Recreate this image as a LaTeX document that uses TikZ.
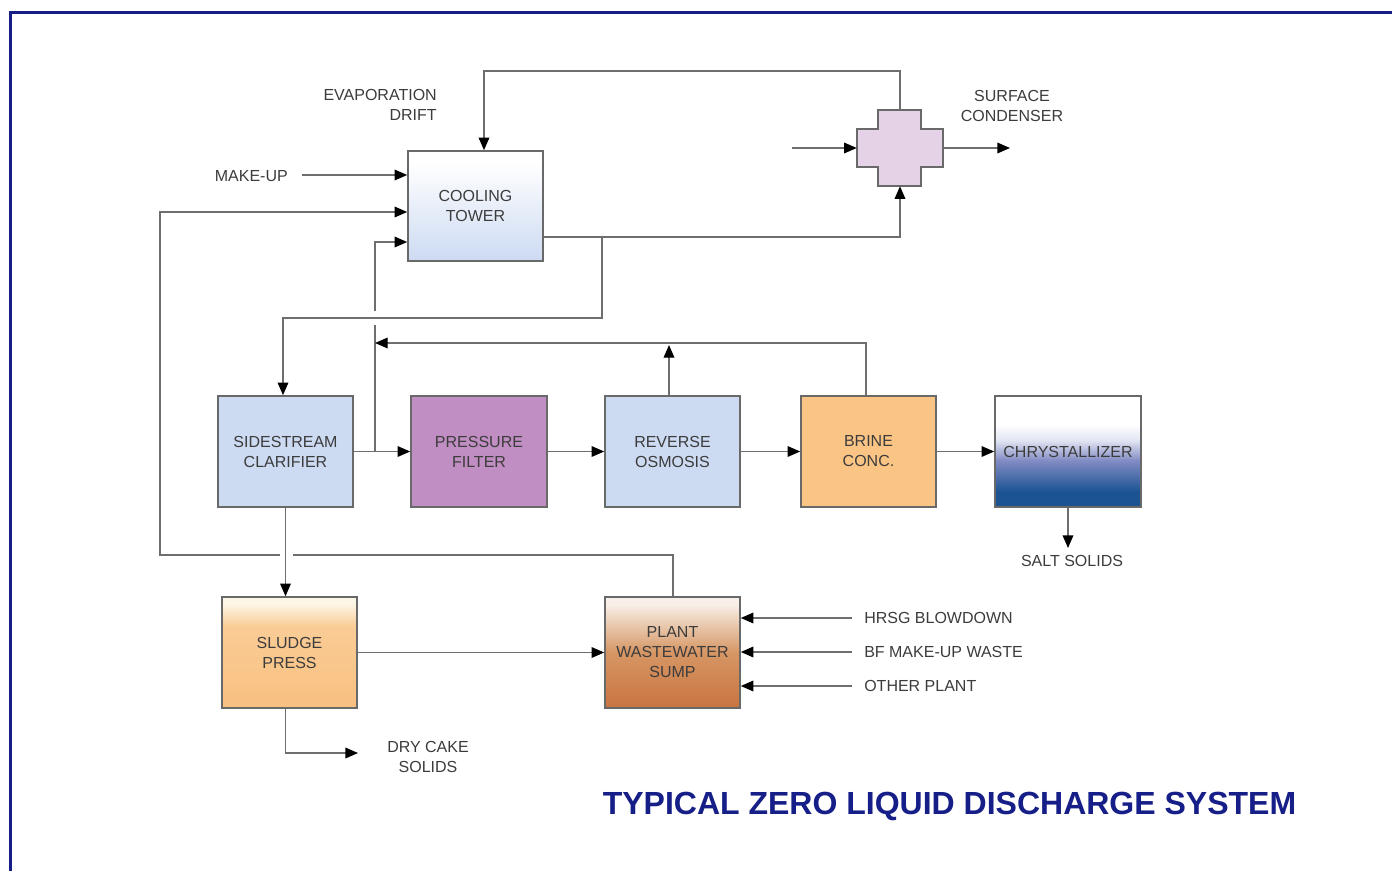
\documentclass[tikz,border=0pt]{standalone}
\usepackage{fontspec}
\setmainfont{Liberation Sans}
\usetikzlibrary{arrows.meta}
\definecolor{navy}{RGB}{22,30,135}
\definecolor{txt}{RGB}{60,60,60}
\definecolor{ln}{RGB}{110,110,110}
\definecolor{bord}{RGB}{105,105,105}
\definecolor{lblue}{RGB}{204,218,242}
\definecolor{purp}{RGB}{192,142,194}
\definecolor{brine}{RGB}{250,196,132}
\definecolor{crossc}{RGB}{230,210,230}
\definecolor{crB}{RGB}{28,84,146}
\definecolor{crM}{RGB}{130,140,196}
\definecolor{crL}{RGB}{225,228,242}
\definecolor{spT}{RGB}{252,246,230}
\definecolor{spM}{RGB}{250,204,150}
\definecolor{spB}{RGB}{248,192,128}
\definecolor{suT}{RGB}{248,240,232}
\definecolor{suM}{RGB}{214,150,100}
\definecolor{suB}{RGB}{200,116,64}
\pgfdeclareverticalshading{ctshade}{100bp}{color(0bp)=(lblue); color(25bp)=(lblue); color(70bp)=(white); color(100bp)=(white)}
\pgfdeclareverticalshading{crshade}{100bp}{color(0bp)=(crB); color(32bp)=(crB); color(46bp)=(crM); color(55bp)=(crL); color(62bp)=(white); color(100bp)=(white)}
\pgfdeclareverticalshading{spshade}{100bp}{color(0bp)=(spB); color(25bp)=(spB); color(62bp)=(spM); color(72bp)=(spT); color(100bp)=(spT)}
\pgfdeclareverticalshading{sushade}{100bp}{color(0bp)=(suB); color(25bp)=(suB); color(50bp)=(suM); color(72bp)=(suT); color(100bp)=(suT)}
\begin{document}
\begin{tikzpicture}[x=0.75pt,y=-0.75pt,
  lbl/.style={font=\fontsize{12}{15}\selectfont, text=txt, align=center, inner sep=0pt},
  box/.style={draw=bord, line width=1.2pt, lbl, minimum width=101.25pt, minimum height=83.25pt},
  arr/.style={draw=ln, line width=1pt, -{Triangle[length=9.5pt,width=8pt,color=black]}},
  ln/.style={draw=ln, line width=1pt}]
\useasboundingbox (0,0) rectangle (1392,871);
\fill[white] (0,0) rectangle (1392,871);
\draw[navy, line width=2.25pt] (10,871) -- (10,12.5) -- (1392,12.5);

% boxes
\node[box, shading=ctshade, minimum height=82.5pt] (ct) at (475.5,206) {COOLING\\TOWER};
\node[box, fill=lblue] (clar) at (285.5,451.5) {SIDESTREAM\\CLARIFIER};
\node[box, fill=purp, minimum width=102pt] (pf) at (479,451.5) {PRESSURE\\FILTER};
\node[box, fill=lblue] (ro) at (672.5,451.5) {REVERSE\\OSMOSIS};
\node[box, fill=brine] (bc) at (868.5,451.5) {BRINE\\CONC.};
\node[box, shading=crshade, minimum width=109.5pt] (cr) at (1068,451.5) {CHRYSTALLIZER};
\node[box, shading=spshade] (sp) at (289.5,652.5) {SLUDGE\\PRESS};
\node[box, shading=sushade] (sump) at (672.5,652.5) {PLANT\\WASTEWATER\\SUMP};

% surface condenser cross
\draw[bord, fill=crossc, line width=1.2pt]
  (878,110) -- (921,110) -- (921,129) -- (943,129) -- (943,167) -- (921,167)
  -- (921,186) -- (878,186) -- (878,167) -- (857,167) -- (857,129) -- (878,129) -- cycle;
\node[inner sep=0pt, minimum width=64.5pt, minimum height=57pt] (sc) at (900,148) {};

% labels
\node[lbl, anchor=east, align=right] (evap) at (437,105) {EVAPORATION\\DRIFT};
\node[lbl, anchor=east] (mul) at (288,176) {MAKE-UP};
\node[lbl] (scl) at (1012,106) {SURFACE\\CONDENSER};
\node[lbl] (ssl) at (1072,561) {SALT SOLIDS};
\node[lbl] (dcl) at (428,757) {DRY CAKE\\SOLIDS};
\node[lbl, anchor=west] (hl1) at (864,618) {HRSG BLOWDOWN};
\node[lbl, anchor=west] (hl2) at (864,652) {BF MAKE-UP WASTE};
\node[lbl, anchor=west] (hl3) at (864,686) {OTHER PLANT};
\node[font=\fontsize{24}{28}\selectfont\bfseries, text=navy, inner sep=0pt] (title) at (949.5,806) {TYPICAL ZERO LIQUID DISCHARGE SYSTEM};

% coordinates
\coordinate (t1) at (900,71);
\coordinate (t2) at (484,71);
\coordinate (scin) at (792,148);
\coordinate (scout) at (1010,148);
\coordinate (j1) at (602,237);
\coordinate (j2) at (900,237);
\coordinate (j3) at (602,318);
\coordinate (j4) at (283,318);
\coordinate (mu) at (302,175);
\coordinate (l1) at (160,212);
\coordinate (l2) at (160,555);
\coordinate (l3) at (673,555);
\coordinate (hopL) at (280,555);
\coordinate (hopR) at (293,555);
\coordinate (v2) at (375,325);
\coordinate (v3) at (375,311);
\coordinate (v4) at (375,242);
\coordinate (r1) at (866,343);
\coordinate (r2) at (375,343);
\coordinate (r3) at (669,345);
\coordinate (ss) at (1068,548);
\coordinate (dc) at (358,753);
\coordinate (h1) at (852,618);
\coordinate (h2) at (852,652);
\coordinate (h3) at (852,686);

% connectors
\draw[arr] (sc.north) -- (t1) -- (t2) -- (t2 |- ct.north);
\draw[arr] (scin) -- (sc.west);
\draw[arr] (sc.east) -- (scout);
\draw[arr] (ct.east |- j1) -- (j2) -- (sc.south);
\draw[arr] (j1) -- (j3) -- (j4) -- (j4 |- clar.north);
\draw[arr] (mu) -- (mu -| ct.west);
\draw[arr] (hopL) -- (l2) -- (l1) -- (l1 -| ct.west);
\draw[ln] (sump.north -| l3) -- (l3) -- (hopR);
\draw[ln] (clar.east -| v2) -- (v2);
\draw[arr] (v3) -- (v4) -- (v4 -| ct.west);
\draw[arr] (clar.east) -- (pf.west);
\draw[arr] (pf.east) -- (ro.west);
\draw[arr] (ro.east) -- (bc.west);
\draw[arr] (bc.east) -- (cr.west);
\draw[arr] (bc.north -| r1) -- (r1) -- (r2);
\draw[arr] (ro.north -| r3) -- (r3);
\draw[arr] (cr.south) -- (ss);
\draw[arr] (clar.south) -- (clar.south |- sp.north);
\draw[arr] (sp.east) -- (sump.west);
\draw[arr] (clar.south |- sp.south) |- (dc);
\draw[arr] (h1) -- (h1 -| sump.east);
\draw[arr] (h2) -- (h2 -| sump.east);
\draw[arr] (h3) -- (h3 -| sump.east);
\end{tikzpicture}
\end{document}
